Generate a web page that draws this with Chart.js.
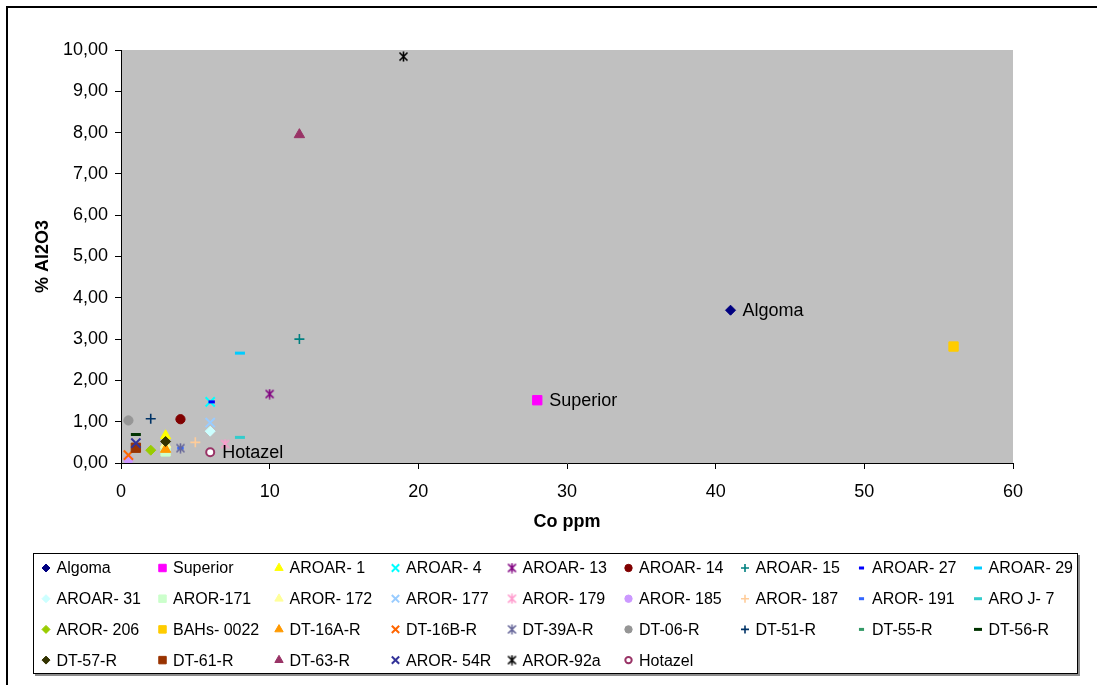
<!DOCTYPE html>
<html>
<head>
<meta charset="utf-8">
<script src="https://cdn.jsdelivr.net/npm/chart.js@4.4.1/dist/chart.umd.min.js"></script>
<style>
  html, body { margin: 0; padding: 0; background: #ffffff; }
  #wrap { width: 1097px; height: 685px; position: relative; }
</style>
</head>
<body>
<div id="wrap"><canvas id="chart" width="1097" height="685"></canvas></div>
<script>
// Sample names (one series per sample)
const sampleNames = [
  'Algoma', 'Superior', 'AROAR- 1', 'AROAR- 4', 'AROAR- 13', 'AROAR- 14', 'AROAR- 15', 'AROAR- 27', 'AROAR- 29',
  'AROAR- 31', 'AROR-171', 'AROR- 172', 'AROR- 177', 'AROR- 179', 'AROR- 185', 'AROR- 187', 'AROR- 191', 'ARO J- 7',
  'AROR- 206', 'BAHs- 0022', 'DT-16A-R', 'DT-16B-R', 'DT-39A-R', 'DT-06-R', 'DT-51-R', 'DT-55-R', 'DT-56-R',
  'DT-57-R', 'DT-61-R', 'DT-63-R', 'AROR- 54R', 'AROR-92a', 'Hotazel'
];

// Co content (ppm)
const coPpm = [
  41, 28, 3, 6, 10, 4, 12, 6.1, 8,
  6, 3, 3, 6, 7, 0.5, 5, 4, 8,
  2, 56, 3, 0.5, 4, 0.5, 2, 1, 1,
  3, 1, 12, 1, 19, 6
];

// Al2O3 content (%)
const al2o3Pct = [
  3.70, 1.52, 0.66, 1.48, 1.67, 1.06, 3.00, 1.48, 2.66,
  0.77, 0.28, 0.45, 0.98, 0.46, 0.08, 0.50, 0.36, 0.62,
  0.31, 2.82, 0.33, 0.19, 0.36, 1.03, 1.07, 0.40, 0.69,
  0.52, 0.37, 7.95, 0.48, 9.84, 0.26
];

// Series that carry a name label beside the point
const labelledSamples = ['Algoma', 'Superior', 'Hotazel'];

// Axis ticks
const xTickValues = [0, 10, 20, 30, 40, 50, 60];
const yTickValues = [0, 1, 2, 3, 4, 5, 6, 7, 8, 9, 10];

// Marker colours per series
const markerColors = [
  '#000080', '#FF00FF', '#FFFF00', '#00FFFF', '#800080', '#800000', '#008080', '#0000FF', '#00CCFF',
  '#CCFFFF', '#CCFFCC', '#FFFF99', '#99CCFF', '#FF99CC', '#CC99FF', '#FFCC99', '#3366FF', '#33CCCC',
  '#99CC00', '#FFCC00', '#FF9900', '#FF6600', '#666699', '#969696', '#003366', '#339966', '#003300',
  '#333300', '#993300', '#993366', '#333399', '#000000', '#993366'
];

// Marker shapes per series
const markerShapes = [
  'diamond', 'square', 'triangle', 'x', 'star', 'circle', 'plus', 'shortDash', 'longDash',
  'diamond', 'square', 'triangle', 'x', 'star', 'circle', 'plus', 'shortDash', 'longDash',
  'diamond', 'square', 'triangle', 'x', 'star', 'circle', 'plus', 'shortDash', 'longDash',
  'diamond', 'square', 'triangle', 'x', 'star', 'openCircle'
];

const FONT = "'Liberation Sans', Arial, Helvetica, sans-serif";

// Asterisk marker (an x with a vertical bar), drawn once per colour
function makeStar(color) {
  const c = document.createElement('canvas');
  c.width = 11; c.height = 11;
  const g = c.getContext('2d');
  g.strokeStyle = color;
  g.lineWidth = 1.6;
  g.beginPath();
  g.moveTo(1.5, 1.5); g.lineTo(9.5, 9.5);
  g.moveTo(9.5, 1.5); g.lineTo(1.5, 9.5);
  g.moveTo(5.5, 0.5); g.lineTo(5.5, 10.5);
  g.stroke();
  return c;
}

function markerStyle(shape, color) {
  switch (shape) {
    case 'diamond':    return { pointStyle: 'rectRot',  radius: 5,   bg: color, border: color, bw: 1 };
    case 'square':     return { pointStyle: 'rect',     radius: 6.6, bg: color, border: color, bw: 1 };
    case 'triangle':   return { pointStyle: 'triangle', radius: 6,   bg: color, border: color, bw: 1 };
    case 'x':          return { pointStyle: 'crossRot', radius: 6.5, bg: color, border: color, bw: 2 };
    case 'plus':       return { pointStyle: 'cross',    radius: 5,   bg: color, border: color, bw: 1.6 };
    case 'circle':     return { pointStyle: 'circle',   radius: 4.6, bg: color, border: color, bw: 1 };
    case 'openCircle': return { pointStyle: 'circle',   radius: 4,   bg: '#FFFFFF', border: color, bw: 2 };
    case 'shortDash':  return { pointStyle: 'line',     radius: 3.2, bg: color, border: color, bw: 3 };
    case 'longDash':   return { pointStyle: 'line',     radius: 5,   bg: color, border: color, bw: 3 };
    case 'star':       return { pointStyle: makeStar(color), radius: 5, bg: color, border: color, bw: 1 };
  }
}

const styles = markerShapes.map((s, i) => markerStyle(s, markerColors[i]));

const datasets = sampleNames.map((name, i) => ({
  label: name,
  data: [{ x: coPpm[i], y: al2o3Pct[i] }],
  pointStyle: styles[i].pointStyle,
  pointRadius: styles[i].radius,
  pointBackgroundColor: styles[i].bg,
  pointBorderColor: styles[i].border,
  pointBorderWidth: styles[i].bw,
  showLine: false,
  // later samples are painted over earlier ones
  order: sampleNames.length - i
}));

// Grey plot area
const plotBackground = {
  id: 'plotBackground',
  beforeDraw(chart) {
    const { ctx, chartArea: a } = chart;
    ctx.save();
    ctx.fillStyle = '#C0C0C0';
    ctx.fillRect(a.left, a.top, a.right - a.left, a.bottom - a.top);
    ctx.restore();
  }
};

// Name labels to the right of selected points
const pointNames = {
  id: 'pointNames',
  afterDatasetsDraw(chart) {
    const { ctx } = chart;
    ctx.save();
    ctx.font = '18px ' + FONT;
    ctx.fillStyle = '#000000';
    ctx.textAlign = 'left';
    ctx.textBaseline = 'middle';
    labelledSamples.forEach(name => {
      const idx = sampleNames.indexOf(name);
      const pt = chart.getDatasetMeta(idx).data[0];
      ctx.fillText(name, pt.x + 12, pt.y + 1);
    });
    ctx.restore();
  }
};

// Boxed legend in a fixed grid of 9 columns, plus the outer frame
const gridLegend = {
  id: 'gridLegend',
  afterDraw(chart) {
    const { ctx } = chart;
    const box = { left: 33, top: 553, right: 1078, bottom: 674 };
    ctx.save();
    // shadow, fill, border
    ctx.fillStyle = '#8c8c8c';
    ctx.fillRect(box.left + 2, box.top + 2, box.right - box.left, box.bottom - box.top);
    ctx.fillStyle = '#FFFFFF';
    ctx.fillRect(box.left, box.top, box.right - box.left, box.bottom - box.top);
    ctx.strokeStyle = '#000000';
    ctx.lineWidth = 1;
    ctx.strokeRect(box.left + 0.5, box.top + 0.5, box.right - box.left - 1, box.bottom - box.top - 1);

    const cols = 9, colW = 116.5, x0 = 46, y0 = 568, rowH = 30.7;
    ctx.font = '16px ' + FONT;
    ctx.textBaseline = 'middle';
    ctx.textAlign = 'left';
    sampleNames.forEach((name, i) => {
      const col = i % cols, row = Math.floor(i / cols);
      const mx = x0 + col * colW, my = y0 + row * rowH;
      const st = styles[i];
      const k = 0.8; // legend markers are a little smaller
      ctx.save();
      ctx.fillStyle = st.bg;
      ctx.strokeStyle = st.border;
      ctx.lineWidth = st.bw;
      Chart.helpers.drawPoint(ctx, {
        pointStyle: st.pointStyle,
        radius: st.radius * k,
        rotation: 0,
        borderWidth: st.bw
      }, mx, my);
      ctx.restore();
      ctx.fillStyle = '#000000';
      ctx.fillText(name, mx + 10.5, my + 1);
    });

    // outer frame (top and left edges)
    ctx.fillStyle = '#000000';
    ctx.fillRect(6, 6, 1091, 2);
    ctx.fillRect(6, 6, 2, 679);
    ctx.restore();
  }
};

new Chart(document.getElementById('chart'), {
  type: 'scatter',
  data: { datasets },
  plugins: [plotBackground, pointNames, gridLegend],
  options: {
    responsive: false,
    animation: false,
    events: [],
    layout: { padding: { top: 50, right: 84, left: 0, bottom: 0 } },
    plugins: {
      legend: { display: false },
      tooltip: { enabled: false },
      title: { display: false }
    },
    scales: {
      x: {
        type: 'linear',
        min: xTickValues[0],
        max: xTickValues[xTickValues.length - 1],
        afterBuildTicks: (scale) => { scale.ticks = xTickValues.map(v => ({ value: v })); },
        afterFit: (scale) => { scale.height = 222; },
        grid: { display: true, drawOnChartArea: false, drawTicks: true, tickLength: 6, color: '#000000', tickColor: '#000000' },
        border: { display: true, color: '#000000', width: 1 },
        ticks: {
          color: '#000000',
          font: { family: FONT, size: 18 },
          padding: 12,
          maxRotation: 0,
          callback: (v) => String(v)
        },
        title: {
          display: true,
          text: 'Co ppm',
          color: '#000000',
          font: { family: FONT, size: 18, weight: 'bold' },
          padding: { top: 0, bottom: 152 }
        }
      },
      y: {
        type: 'linear',
        min: yTickValues[0],
        max: yTickValues[yTickValues.length - 1],
        afterBuildTicks: (scale) => { scale.ticks = yTickValues.map(v => ({ value: v })); },
        afterFit: (scale) => { scale.width = 121; },
        grid: { display: true, drawOnChartArea: false, drawTicks: true, tickLength: 6, color: '#000000', tickColor: '#000000' },
        border: { display: true, color: '#000000', width: 1 },
        ticks: {
          color: '#000000',
          font: { family: FONT, size: 18 },
          padding: 7,
          callback: (v) => Number(v).toFixed(2).replace('.', ',')
        },
        title: {
          display: true,
          text: '% Al2O3',
          color: '#000000',
          font: { family: FONT, size: 18, weight: 'bold' },
          padding: { top: 32, bottom: 0 }
        }
      }
    }
  }
});
</script>
</body>
</html>
